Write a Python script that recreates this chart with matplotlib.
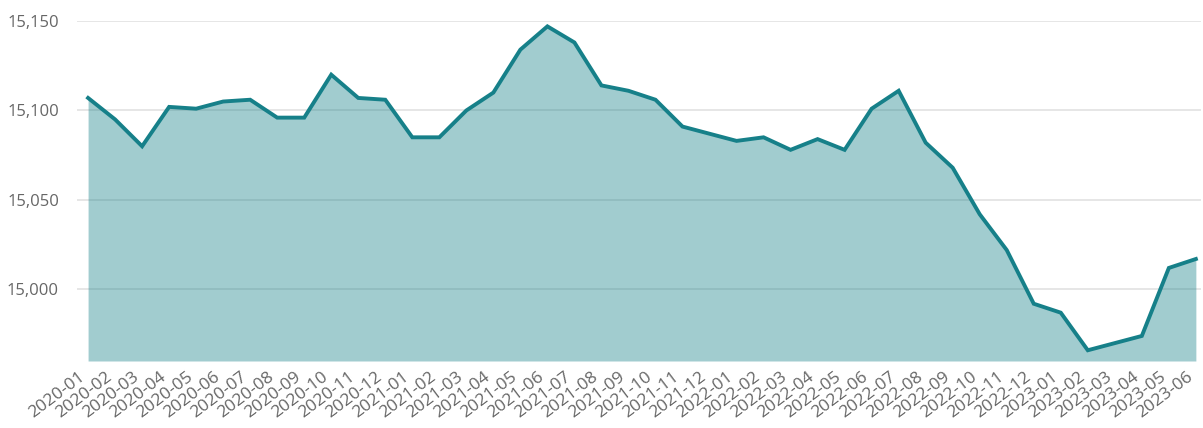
import matplotlib
matplotlib.use("Agg")
import matplotlib.pyplot as plt
import numpy as np

# monthly values
months = [
    "2020-01", "2020-02", "2020-03", "2020-04", "2020-05", "2020-06",
    "2020-07", "2020-08", "2020-09", "2020-10", "2020-11", "2020-12",
    "2021-01", "2021-02", "2021-03", "2021-04", "2021-05", "2021-06",
    "2021-07", "2021-08", "2021-09", "2021-10", "2021-11", "2021-12",
    "2022-01", "2022-02", "2022-03", "2022-04", "2022-05", "2022-06",
    "2022-07", "2022-08", "2022-09", "2022-10", "2022-11", "2022-12",
    "2023-01", "2023-02", "2023-03", "2023-04", "2023-05", "2023-06",
]
values = [
    15107, 15095, 15080, 15102, 15101, 15105,
    15106, 15096, 15096, 15120, 15107, 15106,
    15085, 15085, 15100, 15110, 15134, 15147,
    15138, 15114, 15111, 15106, 15091, 15087,
    15083, 15085, 15078, 15084, 15078, 15101,
    15111, 15082, 15068, 15042, 15022, 14992,
    14987, 14966, 14970, 14974, 15012, 15017,
]
y_ticks = [15000, 15050, 15100, 15150]
y_min, y_max = 14960, 15150

LINE = "#168089"
TEXT = "#666666"

plt.rcParams['font.family'] = ['Open Sans', 'DejaVu Sans']

fig = plt.figure(figsize=(12.03, 4.28), dpi=100)
ax = fig.add_axes([77 / 1203, 1 - 361 / 428, 1124 / 1203, 340 / 428])

x = np.arange(len(months))
ax.fill_between(x, values, y_min, color=LINE, alpha=0.4, linewidth=0, zorder=3)
ax.plot(x, values, color=LINE, linewidth=2.8, solid_joinstyle='miter', zorder=4, clip_on=False)

ax.set_xlim(-0.41, len(months) - 1 + 0.19)
ax.set_ylim(y_min, y_max)

ax.set_yticks(y_ticks)
ax.set_yticklabels([f"{v:,}" for v in y_ticks])
ax.grid(axis='y', color="#e1e1e1", linewidth=1.2, zorder=1)
ax.set_axisbelow(True)

# slanted month labels, set a little left of and below each tick
ax.set_xticks(x)
ax.set_xticklabels([])
for xi, m in zip(x, months):
    ax.annotate(m, xy=(xi, 0), xycoords=ax.get_xaxis_transform(),
                xytext=(-7, -6), textcoords='offset points',
                rotation=37, rotation_mode='anchor', ha='right', va='top',
                fontsize=12.5, color=TEXT, annotation_clip=False)

ax.tick_params(axis='y', length=0, pad=13, labelsize=12, labelcolor=TEXT)
ax.tick_params(axis='x', length=0)

for s in ax.spines.values():
    s.set_visible(False)

fig.savefig("out.png", dpi=100)
